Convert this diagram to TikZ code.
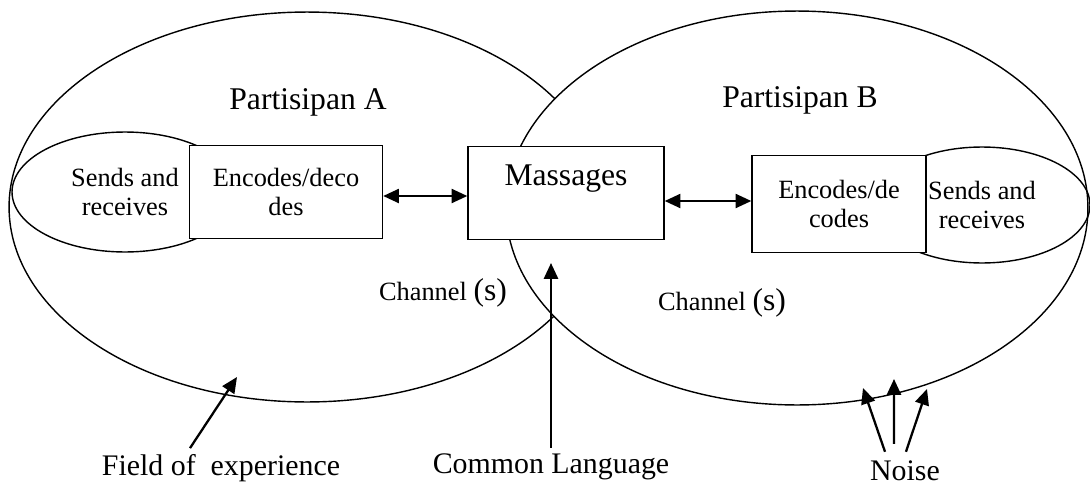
\documentclass[tikz,border=0pt]{standalone}
\usepackage{fontspec}
\setmainfont{Liberation Serif}
\usetikzlibrary{arrows.meta,positioning,shapes.geometric}
\tikzset{
  every node/.style={font=\fontsize{15}{17}\selectfont},
  field/.style={draw, ellipse, line width=0.8pt, inner sep=0pt, outer sep=0pt},
  talk/.style={draw, ellipse, line width=0.8pt, inner sep=0pt, align=center},
  box/.style={draw, fill=white, rectangle, line width=0.8pt, inner sep=2pt, align=center},
  arr/.style={-{Triangle[length=9pt,width=8pt]}, line width=1.3pt},
  dblarr/.style={{Triangle[length=9pt,width=8pt]}-{Triangle[length=9pt,width=8pt]}, line width=1.3pt},
  big/.style={font=\fontsize{18}{21}\selectfont},
  caption/.style={font=\fontsize{17}{20}\selectfont},
}

\begin{document}
\begin{tikzpicture}[x=0.02cm, y=-0.02cm]
  \useasboundingbox (0,0) rectangle (1090,487);

  % ---- fields of experience ------------------------------------------------
  \node[field, minimum width=11.92cm, minimum height=7.8cm] (fieldA) at (307,207) {};
  \node[field, fill=white, minimum width=11.64cm, minimum height=7.88cm] (fieldB) at (797,208) {};
  \node[big] (partA) at (308,102) {Partisipan A};
  \node[big] (partB) at (800,100) {Partisipan B};

  % ---- participant A ---------------------------------------------------------
  \node[talk, minimum width=4.52cm, minimum height=2.4cm] (sendA) at (125,192) {Sends and\\receives};
  \node[box, minimum width=3.86cm, minimum height=1.86cm] (encA) at (286,192) {Encodes/deco\\des};

  % ---- message -----------------------------------------------------------------
  \node[box, minimum width=3.92cm, minimum height=1.86cm] (msg) at (566,193) {};
  \node[big, below=0.25cm of msg.north] (msgtxt) {Massages};

  % ---- participant B ---------------------------------------------------------
  \node[talk, minimum width=4.32cm, minimum height=2.32cm] (sendB) at (982,205) {Sends and\\receives};
  \node[box, minimum width=3.48cm, minimum height=1.94cm] (encB) at (839,204) {Encodes/de\\codes};

  \draw[dblarr] ([yshift=-0.08cm]encA.east) -- ([yshift=-0.08cm]encA.east -| msg.west);
  \draw[dblarr] ([yshift=0.06cm]encB.west -| msg.east) -- ([yshift=0.06cm]encB.west);

  \node (chA) at (443,293) {Channel {\fontsize{18}{21}\selectfont(s)}};
  \node (chB) at (722,303) {Channel {\fontsize{18}{21}\selectfont(s)}};

  % ---- captions ----------------------------------------------------------------
  \node[caption] (field) at (221,468) {Field of\ \ experience};
  \node[caption] (common) at (551,467) {Common Language};
  \node[caption] (noise) at (905,471) {Noise};

  \coordinate (fieldtip) at (237,377);
  \coordinate (commontip) at (551,263);
  \coordinate (noiseL) at (863,388);
  \coordinate (noiseM) at (894,379);
  \coordinate (noiseR) at (927,389);

  \draw[arr] ([xshift=-0.62cm]field.north) -- (fieldtip);
  \draw[arr] (common.north) -- (commontip);
  \draw[arr] ([xshift=-0.4cm,yshift=0.06cm]noise.north) -- (noiseL);
  \draw[arr] ([xshift=-0.22cm,yshift=0.22cm]noise.north) -- (noiseM);
  \draw[arr] ([xshift=0.02cm,yshift=0.06cm]noise.north) -- (noiseR);
\end{tikzpicture}
\end{document}
